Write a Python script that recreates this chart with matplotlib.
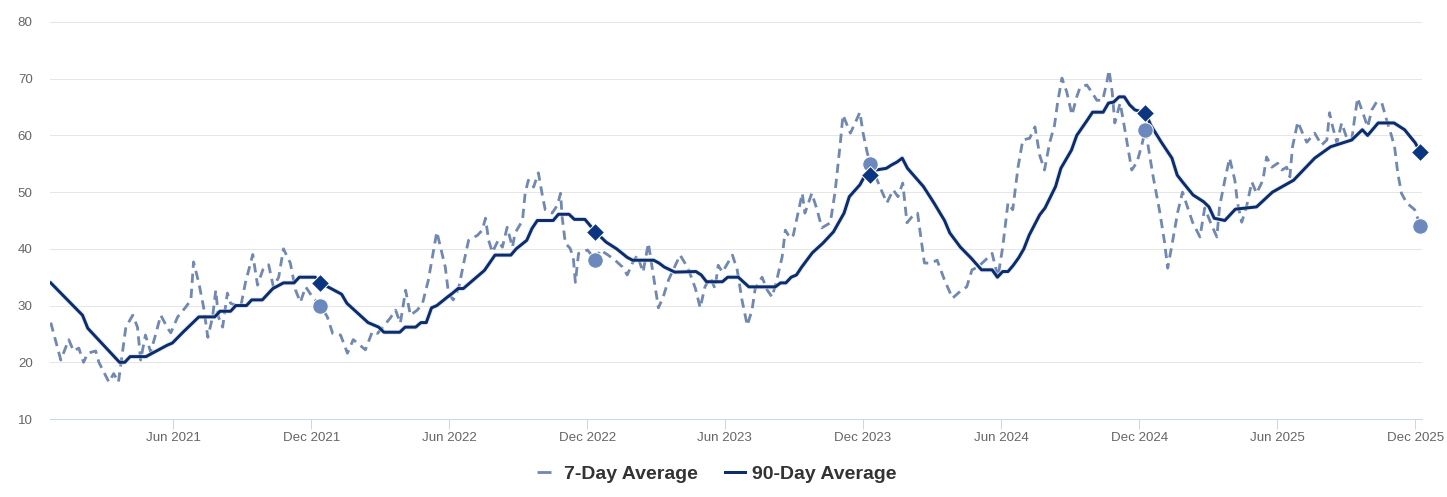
import numpy as np
import pandas as pd
import matplotlib
matplotlib.use("Agg")
import matplotlib.pyplot as plt
from matplotlib.lines import Line2D
import matplotlib.patheffects as pe

plt.rcParams['font.family'] = ['Liberation Sans', 'DejaVu Sans']

# ---------------- data ----------------
start_date = '2020-12-21'          # week 0 of the weekly series

week_7d = [0.0, 1.9, 3.4, 4.3, 5.3, 6.2, 7.0, 8.5, 9.1, 11.0, 11.9, 12.8, 14.2, 15.5, 16.4, 17.0,
           17.9, 18.9, 19.8, 20.8, 22.1, 22.7, 24.0, 25.5, 26.5, 27.0, 28.0, 28.9, 29.7, 30.6, 31.2,
           31.7, 32.5, 33.4, 34.0, 35.9, 36.8, 38.2, 39.1, 40.1, 41.2, 42.1, 43.1, 44.0, 45.3, 46.3,
           47.2, 48.2, 49.5, 51.0, 52.3, 53.3, 54.8, 56.1, 57.2, 59.5, 60.8, 61.8, 64.2, 65.2, 66.1,
           67.1, 68.0, 69.3, 70.3, 71.4, 73.0, 74.6, 75.2, 76.1, 77.1, 78.4, 79.0, 80.7, 81.6, 82.2,
           82.8, 83.5, 84.6, 85.4, 86.3, 87.3, 87.8, 89.2, 89.7, 90.3, 91.3, 92.2, 93.0, 93.5, 94.8,
           95.8, 96.4, 96.7, 97.3, 98.2, 98.8, 99.2, 99.8, 101.5, 103.0, 103.9, 105.4, 106.7, 108.1,
           109.0, 110.0, 110.9, 112.0, 113.0, 113.7, 114.9, 115.8, 116.8, 117.5, 119.0, 120.5, 121.9,
           122.8, 123.7, 124.7, 125.6, 126.2, 127.0, 128.9, 129.8, 130.7, 131.7, 132.6, 133.2, 134.5,
           135.5, 136.4, 137.4, 138.3, 138.9, 139.8, 140.4, 141.3, 142.1, 142.6, 143.9, 144.9, 145.8,
           147.4, 148.3, 149.3, 149.8, 151.2, 152.1, 153.0, 153.6, 154.4, 155.0, 156.8, 158.1, 159.3,
           160.2, 161.1, 161.9, 162.8, 163.9, 164.6, 165.2, 166.5, 167.6, 169.0, 170.5, 172.2, 173.2,
           174.2, 175.3, 176.7, 178.0, 179.1, 180.0, 181.0, 181.9, 182.9, 183.8, 185.1, 186.1, 187.0,
           187.9, 188.9, 189.8, 190.4, 191.2, 192.1, 193.1, 194.0, 194.6, 195.9, 196.8, 197.8, 198.9,
           199.7, 200.1, 200.7, 201.2, 202.2, 202.7, 203.5, 204.4, 205.4, 206.3, 207.0, 208.4, 209.7,
           210.6, 211.2, 212.1, 213.1, 214.0, 215.0, 215.9, 217.3, 218.2, 219.5, 220.5, 221.0, 222.0,
           222.9, 223.9, 224.4, 225.2, 226.1, 227.1, 228.0, 229.2, 229.9, 230.9, 232.0, 232.8, 233.7,
           234.3, 234.8, 235.8, 236.7, 237.5, 239.0, 240.3, 241.3, 241.8, 242.4, 243.2, 244.1, 245.0,
           246.0, 246.5, 247.1, 248.1, 249.0, 249.8, 250.7, 251.7, 252.6, 253.5, 254.1, 254.7, 255.4,
           256.4, 257.9, 259.0]
avg_7d = [27, 20.4, 24, 22, 22.5, 20, 21.6, 22, 20, 16.5, 18, 16.5, 26.2, 28.3, 26.2, 20.4,
          24.8, 21.8, 24.8, 28.3, 26, 25.2, 28, 29.7, 31, 37.7, 34, 29.7, 24.4, 28, 32.7,
          28, 26.2, 32.2, 30.4, 29.7, 34, 39, 33.6, 36.3, 37.2, 33.3, 35, 40, 37.5, 32.7,
          30.6, 33.3, 31.5, 30, 28, 25.1, 24.8, 21.6, 24, 22.2, 25.4, 25.1, 27.8, 29.2, 26.9,
          32.7, 28.3, 29.2, 30.4, 34.5, 43, 36.8, 32.2, 31, 33, 38.9, 41.5, 42.4, 43.3, 45.4,
          41.5, 39.4, 41.5, 40.3, 43.8, 40.3, 42.8, 45, 49.8, 52.1, 50.9, 53.4, 49.2, 46.9, 46.3,
          47.7, 49.8, 45.6, 41, 40.1, 38.5, 34.1, 39.2, 39.8, 38, 39.8, 38.9, 38, 36.8,
          35.4, 37.5, 38.9, 35.9, 41, 36.8, 29.6, 31.5, 34.5, 35.9, 38.9, 36.6, 33,
          29.6, 33.3, 35, 33, 37.1, 35.9, 38.9, 36.3, 31, 26.5, 29.2, 33, 35,
          32.7, 31.5, 35, 38.6, 43.3, 41.9, 42.4, 46.3, 49.8, 46.3, 49.8, 46.9, 43.7,
          44.6, 50, 58.7, 63.6, 60.4, 62.2, 64.1, 60.4, 56.9, 55, 50.9, 48.1, 50.4,
          49.2, 51.6, 44.6, 45.6, 46.3, 41.6, 37.5, 37.5, 38, 34.5, 31.3, 32.7, 33.3,
          36.3, 36.8, 38, 39.2, 35, 40.3, 48.1, 46.9, 54.4, 59.2, 59.5, 61.5, 56.5,
          53.9, 58.8, 61.8, 65.9, 70.1, 67.7, 63.6, 66.8, 68.4, 68.9, 67.7, 66.2, 66.2,
          69.4, 71.5, 67.7, 62.2, 65.7, 63.2, 58.8, 53.9, 55.3, 58.3, 61, 53, 46.5,
          41.2, 36.6, 41.2, 46.5, 50, 47.2, 44.7, 42.1, 47.2, 44.2, 42.1, 47.4, 52.1,
          56, 52.1, 48.1, 44.7, 47.4, 51.8, 49.8, 52.1, 56.2, 54.4, 55.1, 53.9, 54.4,
          52.7, 58, 62.4, 60.4, 58.8, 60.4, 58.3, 59.2, 64, 61.5, 58.7, 62.2, 59.7,
          59.2, 62.7, 66.6, 64, 61.5, 64.5, 65.9, 65.7, 62.7, 60, 58, 53.4, 49.8,
          48.1, 46.9, 44]

week_90d = [0, 6, 7, 13, 14, 15, 18, 20, 21, 22, 23, 25, 28, 31, 32, 34, 35, 37, 38, 40, 41, 42,
            44, 46, 47, 50, 51, 53, 55, 56, 58, 60, 62, 63, 66, 67, 69, 70, 71, 72, 73, 75, 76,
            77, 78, 82, 84, 87, 88, 90, 91, 92, 95, 96, 98, 99, 101, 103, 105, 107, 109, 110,
            114, 115, 116, 118, 122, 123, 124, 127, 128, 130, 132, 137, 138, 139, 140, 141, 142,
            144, 146, 148, 150, 151, 153, 154, 155, 156, 158, 159, 160, 161, 162, 165, 167, 169,
            170, 172, 174, 176, 178, 179, 180, 181, 182, 183, 184, 185, 187, 188, 190, 191, 193,
            194, 196, 197, 199, 200, 201, 202, 203, 204, 205, 207, 208, 210, 212, 213, 214, 216,
            218, 219, 220, 222, 224, 228, 231, 235, 239, 242, 246, 248, 249, 251, 254, 256, 258,
            259]
avg_90d = [34, 28.3, 26, 20, 20, 21, 21, 22, 22.5, 23, 23.4, 25.3, 28, 28, 29, 29, 30, 30, 31, 31,
           32, 33, 34, 34, 35, 35, 34, 33, 32, 30.4, 28.7, 27, 26.2, 25.3, 25.3, 26.2, 26.2, 27,
           27, 29.6, 30, 31.5, 32.2, 33, 33, 36.2, 38.9, 38.9, 40, 41.5, 43.6, 45, 45, 46.1,
           46.1, 45.2, 45.2, 43, 41.2, 40, 38.5, 38, 38, 37.5, 36.8, 35.9, 36, 35.4, 34.2,
           34.2, 35, 35, 33.3, 33.3, 34, 34, 35, 35.4, 36.8, 39.3, 41, 43, 46.3, 49.2, 51.3,
           53, 53, 53.9, 54.2, 54.8, 55.3, 56, 54.2, 51, 48.1, 45, 42.8, 40.3, 38.4, 36.3,
           36.3, 35, 36, 36, 37.1, 38.4, 40, 42.4, 46, 47.2, 51, 54.2, 57.4, 60, 62.7, 64.1,
           64.1, 65.7, 65.9, 66.8, 66.8, 65.4, 64.5, 64, 61.8, 58.8, 56, 53, 51.8, 49.5, 48.3,
           47.4, 45.4, 45, 47, 47.4, 50, 52.1, 56, 58, 59.2, 61, 60, 62.2, 62.2, 61, 58.7, 57]

marker_weeks = [51, 103, 155, 207, 259]
marker_7d = [30, 38, 55, 61, 44]
marker_90d = [34, 43, 53, 64, 57]

x_tick_labels = ['Jun 2021', 'Dec 2021', 'Jun 2022', 'Dec 2022', 'Jun 2023',
                 'Dec 2023', 'Jun 2024', 'Dec 2024', 'Jun 2025', 'Dec 2025']
y_ticks = [10, 20, 30, 40, 50, 60, 70, 80]
series_names = ['7-Day Average', '90-Day Average']

# ---------------- drawing ----------------
def to_dates(weeks):
    return pd.Timestamp(start_date) + pd.to_timedelta(np.asarray(weeks, dtype=float) * 7, unit='D')

C7 = '#7188b0'
C90 = '#0c2d6b'
CDOT = '#6b89bd'
CDIA = '#0b3580'

W, H = 1447, 497
fig = plt.figure(figsize=(W / 100, H / 100), dpi=100)
ax = fig.add_axes([50 / W, 1 - 419 / H, 1372 / W, 397 / H])

px = 72 / 100  # points per pixel
ax.plot(to_dates(week_7d), avg_7d, color=C7, lw=2.8 * px,
        linestyle=(0, (3.3, 2.1)), zorder=3)
ax.plot(to_dates(week_90d), avg_90d, color=C90, lw=3.0 * px, zorder=4,
        solid_joinstyle='round',
        path_effects=[pe.Stroke(linewidth=5.0 * px, foreground='#d3dbeb', alpha=0.5), pe.Normal()])

ax.plot(to_dates(marker_weeks), marker_7d, linestyle='none', marker='o', markersize=15.5 * px,
        color=CDOT, markeredgecolor='white', markeredgewidth=1 * px, zorder=5, clip_on=False)
ax.plot(to_dates(marker_weeks), marker_90d, linestyle='none', marker='D', markersize=12.5 * px,
        color=CDIA, markeredgecolor='white', markeredgewidth=1 * px, zorder=6, clip_on=False)

start = pd.Timestamp(start_date)
ax.set_xlim(start - pd.Timedelta(days=1), start + pd.Timedelta(days=1815))
ax.set_ylim(10, 80)
ax.set_yticks(y_ticks)
ax.set_yticklabels([str(v) for v in y_ticks])
tick_dates = [pd.to_datetime(lbl, format='%b %Y') for lbl in x_tick_labels]
ax.set_xticks(tick_dates)
ax.set_xticklabels(x_tick_labels)

ax.grid(axis='y', color='#e6e6e6', lw=1 * px, zorder=0)
ax.grid(axis='x', visible=False)
for s in ['top', 'right', 'left']:
    ax.spines[s].set_visible(False)
ax.spines['bottom'].set_color('#ccd6eb')
ax.spines['bottom'].set_linewidth(1 * px)
ax.spines['bottom'].set_zorder(1)
ax.tick_params(axis='x', colors='#ccd6eb', length=10 * px, width=1 * px, pad=2,
               labelcolor='#666666', labelsize=9.6)
ax.tick_params(axis='y', length=0, pad=12.5, labelcolor='#666666', labelsize=9.6)

handles = [Line2D([], [], color=C7, lw=2.8 * px, linestyle=(0, (5.0, 10))),
           Line2D([], [], color=C90, lw=3.0 * px)]
fig.legend(handles, series_names, loc='center', bbox_to_anchor=(717 / W, 1 - 474 / H),
           ncol=2, frameon=False, handlelength=1.03, handletextpad=0.35, columnspacing=1.4,
           prop={'weight': 'bold', 'size': 14}, labelcolor='#333333')

fig.savefig('out.png', dpi=100)
